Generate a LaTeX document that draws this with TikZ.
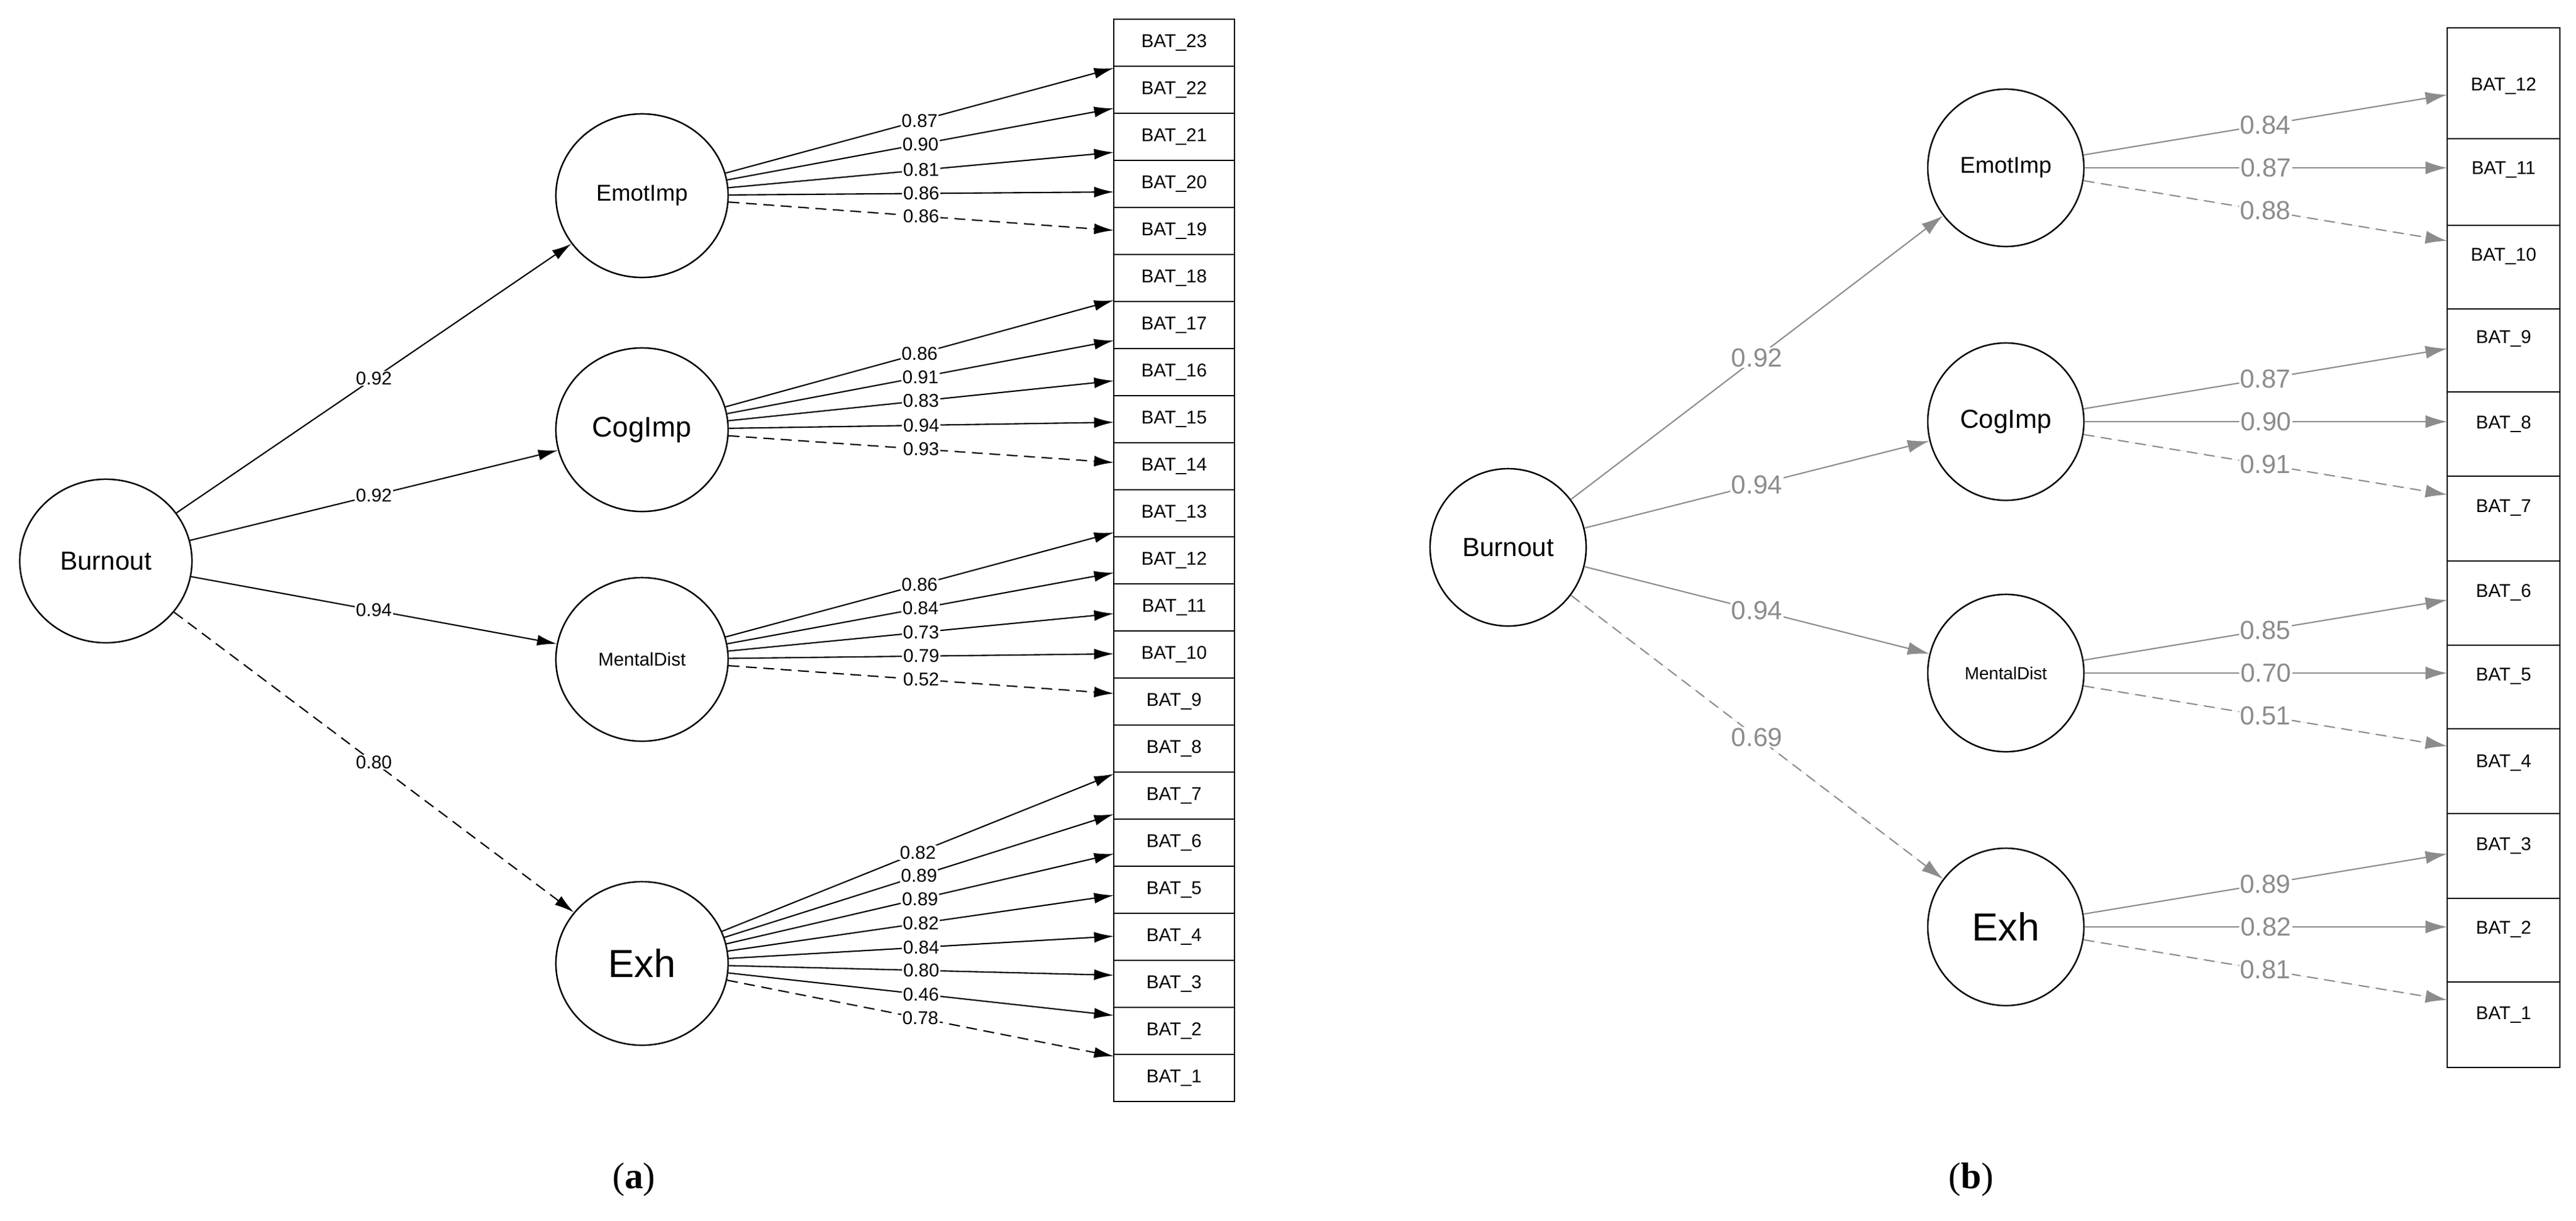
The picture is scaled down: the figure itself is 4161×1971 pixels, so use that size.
\documentclass[tikz,border=0pt]{standalone}
\usepackage{fontspec}
\setmainfont{Liberation Sans}
\newfontfamily\capfont{Liberation Serif}
\usetikzlibrary{arrows.meta,shapes.geometric}
\begin{document}
\begin{tikzpicture}[x=0.01cm,y=-0.01cm,
  lata/.style={ellipse,draw,line width=0.7pt,inner sep=0pt,minimum width=2.78cm,minimum height=2.64cm},
  latb/.style={ellipse,draw,line width=0.7pt,inner sep=0pt,minimum width=2.52cm,minimum height=2.54cm},
  boxa/.style={draw,line width=0.7pt,minimum width=1.95cm,minimum height=0.76cm,inner sep=0pt,font=\fontsize{8.5}{9}\selectfont},
  boxb/.style={draw,line width=0.7pt,inner sep=0pt},
  tb/.style={font=\fontsize{8.5}{9}\selectfont,inner sep=0pt},
  arra/.style={-{Latex[length=9pt,width=5pt]},line width=0.6pt},
  arrb/.style={-{Latex[length=10pt,width=6pt]},line width=0.6pt,draw=black!45,fill=black!45},
  laba/.style={fill=white,inner sep=0.5pt,font=\fontsize{8.5}{9}\selectfont,pos=0.5},
  labb/.style={fill=white,inner sep=0.5pt,font=\fontsize{12}{13}\selectfont,text=black!45,pos=0.5},
  dsh/.style={dash pattern=on 5pt off 3pt}]
\useasboundingbox (0,0) rectangle (4161,1971);
% ---------- panel a ----------
\foreach \k in {0,...,22}{
  \pgfmathtruncatemacro\n{23-\k}
  \node[boxa] (a\n) at (1896.5,{31+76*(\k+0.5)}) {BAT\_\n};
}
\foreach \n/\ty in {23/110,22/175,21/246,20/310,19/372,18/485,17/550,16/615,15/682,14/747,
  13/860,12/925,11/991,10/1056,9/1120,8/1250,7/1315,6/1379,5/1446,4/1512,3/1575,2/1640,1/1706}
  \coordinate (ta\n) at (1799,\ty);
\node[lata,font=\fontsize{12}{13}\selectfont] (aB) at (171,906) {Burnout};
\node[lata,font=\fontsize{10.5}{11}\selectfont] (aE) at (1037,316) {EmotImp};
\node[lata,font=\fontsize{13}{14}\selectfont] (aC) at (1037,694) {CogImp};
\node[lata,font=\fontsize{8.5}{9}\selectfont] (aM) at (1037,1065) {MentalDist};
\node[lata,font=\fontsize{18}{19}\selectfont] (aX) at (1037,1556) {Exh};
\draw[arra] (aB) -- node[laba]{0.92} (aE);
\draw[arra] (aB) -- node[laba]{0.92} (aC);
\draw[arra] (aB) -- node[laba]{0.94} (aM);
\draw[arra,dsh] (aB) -- node[laba]{0.80} (aX);
\foreach \n/\v in {23/0.87,22/0.90,21/0.81,20/0.86}
  \draw[arra] (aE) -- node[laba]{\v} (ta\n);
\draw[arra,dsh] (aE) -- node[laba]{0.86} (ta19);
\foreach \n/\v in {18/0.86,17/0.91,16/0.83,15/0.94}
  \draw[arra] (aC) -- node[laba]{\v} (ta\n);
\draw[arra,dsh] (aC) -- node[laba]{0.93} (ta14);
\foreach \n/\v in {13/0.86,12/0.84,11/0.73,10/0.79}
  \draw[arra] (aM) -- node[laba]{\v} (ta\n);
\draw[arra,dsh] (aM) -- node[laba]{0.52} (ta9);
\foreach \n/\v in {8/0.82,7/0.89,6/0.89,5/0.82,4/0.84,3/0.80,2/0.46}
  \draw[arra] (aX) -- node[laba]{\v} (ta\n);
\draw[arra,dsh] (aX) -- node[laba]{0.78} (ta1);
\node[font=\capfont\fontsize{17}{18}\selectfont] (capa) at (1024,1905) {(\textbf{a})};
% ---------- panel b ----------
\foreach \n/\t/\b/\ty in {12/45/224/139,11/224/364/274,10/364/499/414,9/499/633/547,8/633/769/685,
  7/769/906/820,6/906/1042/957,5/1042/1177/1092,4/1177/1314/1232,3/1314/1451/1366,2/1451/1586/1501,1/1586/1724/1639}{
  \draw[line width=0.7pt] (3953,\t) rectangle (4135,\b);
  \node[tb] (b\n) at (4044,\ty) {BAT\_\n};
}
\node[latb,font=\fontsize{12}{13}\selectfont] (bB) at (2436,884) {Burnout};
\node[latb,font=\fontsize{10.5}{11}\selectfont] (bE) at (3240,271) {EmotImp};
\node[latb,font=\fontsize{12}{13}\selectfont] (bC) at (3240,681) {CogImp};
\node[latb,font=\fontsize{8}{9}\selectfont] (bM) at (3240,1087) {MentalDist};
\node[latb,font=\fontsize{18}{19}\selectfont] (bX) at (3240,1497) {Exh};
\draw[arrb] (bB) -- node[labb]{0.92} (bE);
\draw[arrb] (bB) -- node[labb]{0.94} (bC);
\draw[arrb] (bB) -- node[labb]{0.94} (bM);
\draw[arrb,dsh] (bB) -- node[labb]{0.69} (bX);
\foreach \L/\ly/\a/\b/\c/\va/\vb/\vc in {bE/271/12/11/10/0.84/0.87/0.88, bC/681/9/8/7/0.87/0.90/0.91,
   bM/1087/6/5/4/0.85/0.70/0.51, bX/1497/3/2/1/0.89/0.82/0.81}{
  \coordinate (tb\a) at (3953,\ly-118);
  \coordinate (tb\b) at (3953,\ly);
  \coordinate (tb\c) at (3953,\ly+118);
  \draw[arrb] (\L) -- node[labb]{\va} (tb\a);
  \draw[arrb] (\L) -- node[labb]{\vb} (tb\b);
  \draw[arrb,dsh] (\L) -- node[labb]{\vc} (tb\c);
}
\node[font=\capfont\fontsize{17}{18}\selectfont] (capb) at (3184,1905) {(\textbf{b})};
\end{tikzpicture}
\end{document}
